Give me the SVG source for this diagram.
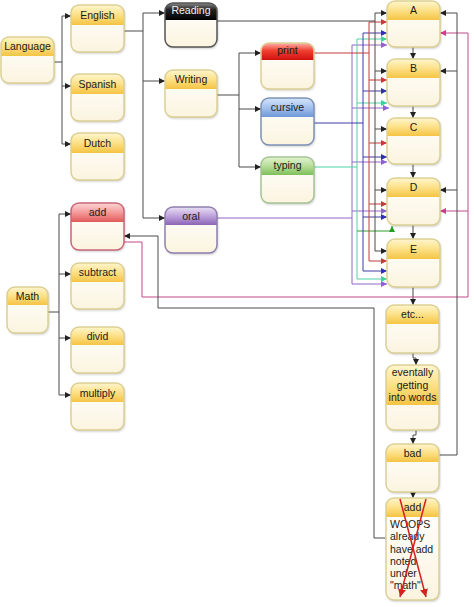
<svg xmlns="http://www.w3.org/2000/svg" width="474" height="607" viewBox="0 0 474 607">
<defs>
<linearGradient id="gY" x1="0" y1="0" x2="0" y2="1"><stop offset="0" stop-color="#fff6cf"/><stop offset="0.45" stop-color="#fde38e"/><stop offset="1" stop-color="#f5c443"/></linearGradient>
<linearGradient id="gBody" x1="0" y1="0" x2="0" y2="1"><stop offset="0" stop-color="#ffffff"/><stop offset="1" stop-color="#fbf4df"/></linearGradient>
<linearGradient id="gK" x1="0" y1="0" x2="0" y2="1"><stop offset="0" stop-color="#8a8a8a"/><stop offset="0.4" stop-color="#222"/><stop offset="1" stop-color="#000"/></linearGradient>
<linearGradient id="gR" x1="0" y1="0" x2="0" y2="1"><stop offset="0" stop-color="#ffb0a8"/><stop offset="0.45" stop-color="#f04030"/><stop offset="1" stop-color="#d01010"/></linearGradient>
<linearGradient id="gB" x1="0" y1="0" x2="0" y2="1"><stop offset="0" stop-color="#d6e6fb"/><stop offset="0.5" stop-color="#a4c2ee"/><stop offset="1" stop-color="#6f98d8"/></linearGradient>
<linearGradient id="gG" x1="0" y1="0" x2="0" y2="1"><stop offset="0" stop-color="#e2f3d2"/><stop offset="0.5" stop-color="#b8dd98"/><stop offset="1" stop-color="#7fbf5a"/></linearGradient>
<linearGradient id="gP" x1="0" y1="0" x2="0" y2="1"><stop offset="0" stop-color="#ebe0f5"/><stop offset="0.5" stop-color="#bfa3dc"/><stop offset="1" stop-color="#8a64b4"/></linearGradient>
<linearGradient id="gA" x1="0" y1="0" x2="0" y2="1"><stop offset="0" stop-color="#fdd6d6"/><stop offset="0.5" stop-color="#f49a9a"/><stop offset="1" stop-color="#e15a5a"/></linearGradient>
<filter id="sh" x="-20%" y="-20%" width="140%" height="140%"><feDropShadow dx="1" dy="1.5" stdDeviation="1.2" flood-color="#000" flood-opacity="0.22"/></filter>
<marker id="mk" markerUnits="userSpaceOnUse" markerWidth="6" markerHeight="6" refX="6" refY="3" orient="auto"><path d="M0,0L6,3L0,6Z" fill="#222"/></marker>
<marker id="mr" markerUnits="userSpaceOnUse" markerWidth="6" markerHeight="6" refX="6" refY="3" orient="auto"><path d="M0,0L6,3L0,6Z" fill="#c83a3a"/></marker>
<marker id="mb" markerUnits="userSpaceOnUse" markerWidth="6" markerHeight="6" refX="6" refY="3" orient="auto"><path d="M0,0L6,3L0,6Z" fill="#3030b0"/></marker>
<marker id="mt" markerUnits="userSpaceOnUse" markerWidth="6" markerHeight="6" refX="6" refY="3" orient="auto"><path d="M0,0L6,3L0,6Z" fill="#3fcf9c"/></marker>
<marker id="mg" markerUnits="userSpaceOnUse" markerWidth="6" markerHeight="6" refX="6" refY="3" orient="auto"><path d="M0,0L6,3L0,6Z" fill="#22a022"/></marker>
<marker id="mp" markerUnits="userSpaceOnUse" markerWidth="6" markerHeight="6" refX="6" refY="3" orient="auto"><path d="M0,0L6,3L0,6Z" fill="#9060d0"/></marker>
<marker id="mm" markerUnits="userSpaceOnUse" markerWidth="6" markerHeight="6" refX="6" refY="3" orient="auto"><path d="M0,0L6,3L0,6Z" fill="#d03c8c"/></marker>
<marker id="mx" markerUnits="userSpaceOnUse" markerWidth="8" markerHeight="8" refX="8" refY="4" orient="auto"><path d="M0,0L8,4L0,8Z" fill="#d42020"/></marker>
</defs>
<style>
.bg{fill:url(#gBody);filter:url(#sh)}
.ol{fill:none;stroke:#dccf94;stroke-width:1.5}
.hy{fill:url(#gY)}
.hk{fill:url(#gK)}
.hr{fill:url(#gR)}
.hb{fill:url(#gB)}
.hg{fill:url(#gG)}
.hp{fill:url(#gP)}
.ha{fill:url(#gA)}
.olk{stroke:#555}
.olb{stroke:#7d92b5}
.olg{stroke:#a4c495}
.olp{stroke:#8f7fae}
.ola{stroke:#c8667a}
text{font-family:"Liberation Sans",Arial,Helvetica,sans-serif;font-size:10.5px;fill:#1a1a1a;text-anchor:middle}
.w{fill:#f2f2f2}
.lt{text-anchor:start}
.c{fill:none;stroke-width:1}
.k{stroke:#4a4a4a}
.r{stroke:#c83a3a}
.b{stroke:#3c3ca6}
.t{stroke:#4fd3a4}
.g{stroke:#2e9e2e}
.p{stroke:#9466c8}
.m{stroke:#c4488a}
.x{fill:none;stroke:#d42020;stroke-width:1.5}
</style>

<g id="connectors">
<path class="c k" d="M54,62H62M62,16V144"/>
<path class="c k" marker-end="url(#mk)" d="M62,16H71"/>
<path class="c k" marker-end="url(#mk)" d="M62,86H71"/>
<path class="c k" marker-end="url(#mk)" d="M62,144H71"/>
<path class="c k" d="M124,31H143M143,13V218"/>
<path class="c k" marker-end="url(#mk)" d="M143,13H165"/>
<path class="c k" marker-end="url(#mk)" d="M143,81H165"/>
<path class="c k" marker-end="url(#mk)" d="M143,218H165"/>
<path class="c k" d="M217,95H239M239,53V167"/>
<path class="c k" marker-end="url(#mk)" d="M239,53H261"/>
<path class="c k" marker-end="url(#mk)" d="M239,109H261"/>
<path class="c k" marker-end="url(#mk)" d="M239,167H261"/>
<path class="c k" d="M48,312H59M59,214V395"/>
<path class="c k" marker-end="url(#mk)" d="M59,214H71"/>
<path class="c k" marker-end="url(#mk)" d="M59,274H71"/>
<path class="c k" marker-end="url(#mk)" d="M59,338H71"/>
<path class="c k" marker-end="url(#mk)" d="M59,395H71"/>
<path class="c k" marker-end="url(#mk)" d="M413,47V59"/>
<path class="c k" marker-end="url(#mk)" d="M413,106V118"/>
<path class="c k" marker-end="url(#mk)" d="M413,164V178"/>
<path class="c k" marker-end="url(#mk)" d="M413,225V239"/>
<path class="c k" marker-end="url(#mk)" d="M413,287V305"/>
<path class="c k" marker-end="url(#mk)" d="M413,353V358H416V365"/>
<path class="c k" marker-end="url(#mk)" d="M416,430V435H413V444"/>
<path class="c k" marker-end="url(#mk)" d="M413,492V498"/>
<path class="c p" d="M217,218H352M352,45V284"/>
<path class="c p" marker-end="url(#mp)" d="M352,45H387"/>
<path class="c p" marker-end="url(#mp)" d="M352,108H389"/>
<path class="c p" marker-end="url(#mp)" d="M352,162H387"/>
<path class="c p" marker-end="url(#mp)" d="M352,211H387"/>
<path class="c p" marker-end="url(#mp)" d="M352,284H387"/>
<path class="c t" d="M314,167H357M357,39V279"/>
<path class="c t" marker-end="url(#mt)" d="M357,39H387"/>
<path class="c t" marker-end="url(#mt)" d="M357,103H387"/>
<path class="c t" marker-end="url(#mt)" d="M357,279H387"/>
<path class="c g" marker-end="url(#mg)" d="M357,231H392V226"/>
<path class="c b" d="M314,123H363M363,33V271"/>
<path class="c b" marker-end="url(#mb)" d="M363,33H387"/>
<path class="c b" marker-end="url(#mb)" d="M363,91H387"/>
<path class="c b" marker-end="url(#mb)" d="M363,157H387"/>
<path class="c b" marker-end="url(#mb)" d="M363,217H387"/>
<path class="c b" marker-end="url(#mb)" d="M363,271H387"/>
<path class="c r" d="M314,53H369M369,22V261"/>
<path class="c r" marker-end="url(#mr)" d="M369,22H387"/>
<path class="c r" marker-end="url(#mr)" d="M369,80H387"/>
<path class="c r" marker-end="url(#mr)" d="M369,143H387"/>
<path class="c r" marker-end="url(#mr)" d="M369,204H387"/>
<path class="c r" marker-end="url(#mr)" d="M369,261H387"/>
<path class="c k" d="M217,21H375M375,13V251"/>
<path class="c k" marker-end="url(#mk)" d="M375,13H387"/>
<path class="c k" marker-end="url(#mk)" d="M375,71H387"/>
<path class="c k" marker-end="url(#mk)" d="M375,129H387"/>
<path class="c k" marker-end="url(#mk)" d="M375,190H387"/>
<path class="c k" marker-end="url(#mk)" d="M375,251H387"/>
<path class="c m" d="M124,242H142V297H468V33"/>
<path class="c m" marker-end="url(#mm)" d="M468,33H440"/>
<path class="c m" marker-end="url(#mm)" d="M468,211H440"/>
<path class="c k" d="M439,455H457V13"/>
<path class="c k" marker-end="url(#mk)" d="M457,13H440"/>
<path class="c k" marker-end="url(#mk)" d="M457,71H440"/>
<path class="c k" marker-end="url(#mk)" d="M457,190H440"/>
<path class="c k" marker-end="url(#mk)" d="M386,538H374V308H158V236H124"/>
</g>

<g id="language" transform="translate(1,37)"><rect class="bg" width="53" height="46" rx="8"/><path class="hy" d="M0,19V8A8,8 0 0 1 8,0H45A8,8 0 0 1 53,8V19Z"/><rect class="ol" width="53" height="46" rx="8"/><text x="26.5" y="13">Language</text></g>
<g id="english" transform="translate(71,5)"><rect class="bg" width="53" height="47" rx="8"/><path class="hy" d="M0,20V8A8,8 0 0 1 8,0H45A8,8 0 0 1 53,8V20Z"/><rect class="ol" width="53" height="47" rx="8"/><text x="26.5" y="14">English</text></g>
<g id="spanish" transform="translate(71,74)"><rect class="bg" width="53" height="47" rx="8"/><path class="hy" d="M0,20V8A8,8 0 0 1 8,0H45A8,8 0 0 1 53,8V20Z"/><rect class="ol" width="53" height="47" rx="8"/><text x="26.5" y="14">Spanish</text></g>
<g id="dutch" transform="translate(71,133)"><rect class="bg" width="53" height="47" rx="8"/><path class="hy" d="M0,20V8A8,8 0 0 1 8,0H45A8,8 0 0 1 53,8V20Z"/><rect class="ol" width="53" height="47" rx="8"/><text x="26.5" y="14">Dutch</text></g>
<g id="reading" transform="translate(165,3)"><rect class="bg" width="52" height="44" rx="8"/><path class="hk" d="M0,17V8A8,8 0 0 1 8,0H44A8,8 0 0 1 52,8V17Z"/><rect class="ol olk" width="52" height="44" rx="8"/><text class="w" x="26" y="11">Reading</text></g>
<g id="writing" transform="translate(165,70)"><rect class="bg" width="52" height="47" rx="8"/><path class="hy" d="M0,19V8A8,8 0 0 1 8,0H44A8,8 0 0 1 52,8V19Z"/><rect class="ol" width="52" height="47" rx="8"/><text x="26" y="13">Writing</text></g>
<g id="print" transform="translate(261,43)"><rect class="bg" width="53" height="46" rx="8"/><path class="hr" d="M0,17V8A8,8 0 0 1 8,0H45A8,8 0 0 1 53,8V17Z"/><rect class="ol" width="53" height="46" rx="8"/><text x="26.5" y="11">print</text></g>
<g id="cursive" transform="translate(261,98)"><rect class="bg" width="53" height="47" rx="8"/><path class="hb" d="M0,19V8A8,8 0 0 1 8,0H45A8,8 0 0 1 53,8V19Z"/><rect class="ol olb" width="53" height="47" rx="8"/><text x="26.5" y="13">cursive</text></g>
<g id="typing" transform="translate(261,157)"><rect class="bg" width="53" height="46" rx="8"/><path class="hg" d="M0,18V8A8,8 0 0 1 8,0H45A8,8 0 0 1 53,8V18Z"/><rect class="ol olg" width="53" height="46" rx="8"/><text x="26.5" y="12">typing</text></g>
<g id="oral" transform="translate(165,207)"><rect class="bg" width="52" height="46" rx="8"/><path class="hp" d="M0,18V8A8,8 0 0 1 8,0H44A8,8 0 0 1 52,8V18Z"/><rect class="ol olp" width="52" height="46" rx="8"/><text x="26" y="12.5">oral</text></g>
<g id="math" transform="translate(7,287)"><rect class="bg" width="41" height="46" rx="8"/><path class="hy" d="M0,18V8A8,8 0 0 1 8,0H33A8,8 0 0 1 41,8V18Z"/><rect class="ol" width="41" height="46" rx="8"/><text x="20.5" y="12.5">Math</text></g>
<g id="add-math" transform="translate(71,203)"><rect class="bg" width="53" height="47" rx="8"/><path class="ha" d="M0,19V8A8,8 0 0 1 8,0H45A8,8 0 0 1 53,8V19Z"/><rect class="ol ola" width="53" height="47" rx="8"/><text x="26.5" y="12.5">add</text></g>
<g id="subtract" transform="translate(71,263)"><rect class="bg" width="53" height="46" rx="8"/><path class="hy" d="M0,19V8A8,8 0 0 1 8,0H45A8,8 0 0 1 53,8V19Z"/><rect class="ol" width="53" height="46" rx="8"/><text x="26.5" y="13">subtract</text></g>
<g id="divid" transform="translate(71,327)"><rect class="bg" width="53" height="46" rx="8"/><path class="hy" d="M0,18V8A8,8 0 0 1 8,0H45A8,8 0 0 1 53,8V18Z"/><rect class="ol" width="53" height="46" rx="8"/><text x="26.5" y="12.5">divid</text></g>
<g id="multiply" transform="translate(71,383)"><rect class="bg" width="53" height="47" rx="8"/><path class="hy" d="M0,19V8A8,8 0 0 1 8,0H45A8,8 0 0 1 53,8V19Z"/><rect class="ol" width="53" height="47" rx="8"/><text x="26.5" y="13.5">multiply</text></g>
<g id="a" transform="translate(387,1)"><rect class="bg" width="53" height="46" rx="8"/><path class="hy" d="M0,19V8A8,8 0 0 1 8,0H45A8,8 0 0 1 53,8V19Z"/><rect class="ol" width="53" height="46" rx="8"/><text x="26.5" y="13">A</text></g>
<g id="b" transform="translate(387,59)"><rect class="bg" width="53" height="47" rx="8"/><path class="hy" d="M0,19V8A8,8 0 0 1 8,0H45A8,8 0 0 1 53,8V19Z"/><rect class="ol" width="53" height="47" rx="8"/><text x="26.5" y="13">B</text></g>
<g id="c" transform="translate(387,118)"><rect class="bg" width="53" height="46" rx="8"/><path class="hy" d="M0,18V8A8,8 0 0 1 8,0H45A8,8 0 0 1 53,8V18Z"/><rect class="ol" width="53" height="46" rx="8"/><text x="26.5" y="12.5">C</text></g>
<g id="d" transform="translate(387,178)"><rect class="bg" width="53" height="47" rx="8"/><path class="hy" d="M0,19V8A8,8 0 0 1 8,0H45A8,8 0 0 1 53,8V19Z"/><rect class="ol" width="53" height="47" rx="8"/><text x="26.5" y="13">D</text></g>
<g id="e" transform="translate(387,239)"><rect class="bg" width="53" height="48" rx="8"/><path class="hy" d="M0,20V8A8,8 0 0 1 8,0H45A8,8 0 0 1 53,8V20Z"/><rect class="ol" width="53" height="48" rx="8"/><text x="26.5" y="14">E</text></g>
<g id="etc" transform="translate(386,305)"><rect class="bg" width="53" height="48" rx="8"/><path class="hy" d="M0,19V8A8,8 0 0 1 8,0H45A8,8 0 0 1 53,8V19Z"/><rect class="ol" width="53" height="48" rx="8"/><text x="26.5" y="13">etc...</text></g>
<g id="eventally" transform="translate(386,365)"><rect class="bg" width="53" height="65" rx="8"/><path class="hy" d="M0,40V8A8,8 0 0 1 8,0H45A8,8 0 0 1 53,8V40Z"/><rect class="ol" width="53" height="65" rx="8"/><text x="26.5" y="11">eventally</text><text x="26.5" y="23.5">getting</text><text x="26.5" y="36">into words</text></g>
<g id="bad" transform="translate(386,444)"><rect class="bg" width="53" height="48" rx="8"/><path class="hy" d="M0,18V8A8,8 0 0 1 8,0H45A8,8 0 0 1 53,8V18Z"/><rect class="ol" width="53" height="48" rx="8"/><text x="26.5" y="12.5">bad</text></g>
<g id="add-dup" transform="translate(386,498)"><rect class="bg" width="53" height="102" rx="8"/><path class="hy" d="M0,19V8A8,8 0 0 1 8,0H45A8,8 0 0 1 53,8V19Z"/><rect class="ol" width="53" height="102" rx="8"/><text x="26.5" y="13">add</text><text class="lt" x="4" y="30">WOOPS</text><text class="lt" x="4" y="42">already</text><text class="lt" x="4" y="54.5">have add</text><text class="lt" x="4" y="66.5">noted</text><text class="lt" x="4" y="78.5">under</text><text class="lt" x="4" y="91">"math"</text></g>
<g id="cross-out">
<path class="x" marker-end="url(#mx)" d="M400,499L426,597"/>
<path class="x" marker-end="url(#mx)" d="M426,499L400,597"/>
</g>
</svg>
